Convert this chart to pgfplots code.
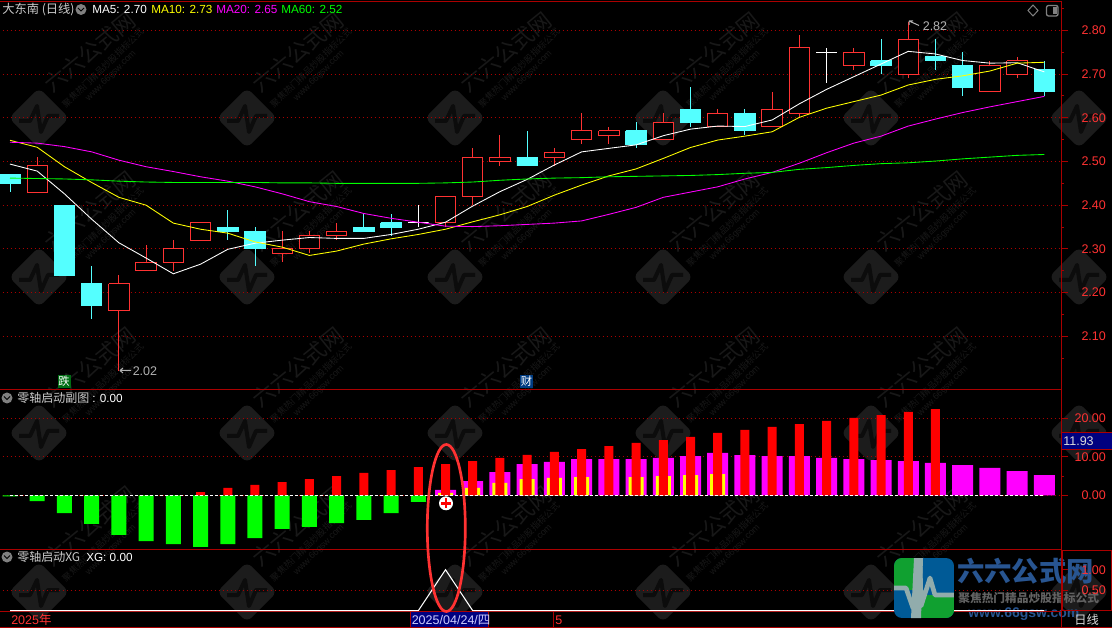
\documentclass[border=0pt]{standalone}
\usepackage{fontspec}
\usepackage{pgfplots}
\usepackage{pgfplotstable}
\pgfplotsset{compat=1.18}
\setmainfont{Liberation Sans}
\newfontfamily\cjk{Noto Sans CJK SC}
\definecolor{axred}{RGB}{170,0,0}
\definecolor{tickred}{RGB}{255,50,50}
\definecolor{cr}{RGB}{255,50,50}
\definecolor{cc}{RGB}{84,255,255}
\definecolor{wm}{RGB}{28,28,28}
\definecolor{wmt}{RGB}{24,24,24}
\definecolor{wmd}{RGB}{12,12,12}
\definecolor{navy}{RGB}{0,0,128}
\definecolor{logoblue}{RGB}{0,90,150}
\definecolor{logogreen}{RGB}{16,160,48}
\definecolor{logotxt}{RGB}{40,85,145}
\definecolor{logoband}{RGB}{145,172,172}
\definecolor{pMag}{RGB}{255,0,255}
\definecolor{pGreen}{RGB}{0,255,0}
\definecolor{pYel}{RGB}{255,255,0}
\definecolor{pRed}{RGB}{255,0,0}
\definecolor{flagG}{RGB}{0,110,20}
\definecolor{flagB}{RGB}{0,60,130}
\pgfplotstableread{
i ma5 ma10 ma20 ma60
0 2.494 2.5485 2.544 2.462
1 2.478 2.5325 2.542 2.461
2 2.426 2.488 2.534 2.460
3 2.368 2.452 2.522 2.458
4 2.314 2.418 2.503 2.455
5 2.279 2.400 2.488 2.453
6 2.243 2.359 2.477 2.452
7 2.265 2.345 2.465 2.452
8 2.299 2.336 2.455 2.452
9 2.313 2.316 2.442 2.452
10 2.320 2.304 2.426 2.451
11 2.326 2.285 2.408 2.451
12 2.324 2.295 2.397 2.450
13 2.324 2.311 2.381 2.450
14 2.333 2.323 2.370 2.450
15 2.345 2.333 2.361 2.450
16 2.361 2.345 2.352 2.451
17 2.398 2.362 2.351 2.453
18 2.431 2.378 2.353 2.457
19 2.459 2.397 2.356 2.460
20 2.492 2.423 2.359 2.462
21 2.522 2.446 2.364 2.463
22 2.530 2.467 2.379 2.465
23 2.538 2.483 2.395 2.466
24 2.559 2.507 2.418 2.467
25 2.574 2.532 2.430 2.468
26 2.581 2.549 2.442 2.470
27 2.580 2.558 2.460 2.473
28 2.595 2.568 2.475 2.475
29 2.632 2.601 2.496 2.482
30 2.665 2.622 2.520 2.486
31 2.694 2.637 2.542 2.491
32 2.723 2.652 2.558 2.495
33 2.752 2.675 2.581 2.497
34 2.746 2.688 2.597 2.501
35 2.731 2.696 2.612 2.506
36 2.725 2.707 2.625 2.510
37 2.726 2.725 2.637 2.514
38 2.705 2.727 2.649 2.516
}\matable
\pgfplotstableread{
i v
0 -0.3
1 -1.5
2 -4.6
3 -7.45
4 -10.3
5 -11.9
6 -12.65
7 -13.4
8 -12.65
9 -11.1
10 -8.75
11 -8.2
12 -7.2
13 -6.4
14 -4.6
15 -1.7
}\greentable
\pgfplotstableread{
i v
7 0.85
8 1.9
9 2.7
10 3.45
11 4.2
12 5.0
13 5.8
14 6.55
15 7.35
16 8.1
17 8.9
18 9.7
19 10.5
20 11.25
21 12.0
22 12.8
23 13.6
24 14.35
25 15.15
26 16.2
27 17.0
28 17.75
29 18.5
30 19.3
31 20.1
32 20.85
33 21.65
34 22.4
}\redtable
\pgfplotstableread{
i v
16 1.4
17 3.7
18 6.05
19 8.1
20 8.65
21 9.4
22 9.4
23 9.4
24 9.7
25 10.2
26 11.0
27 10.45
28 10.2
29 10.2
30 9.7
31 9.4
32 9.15
33 8.9
34 8.4
35 7.85
36 7.1
37 6.3
38 5.25
}\magtable
\pgfplotstableread{
i v
16 0.6
17 1.9
18 3.2
19 4.2
20 4.5
21 4.75
23 4.75
24 5.0
25 5.25
26 5.5
}\yeltable
\pgfplotstableread{
i v
0 0
15 0
16 1
17 0
38 0
}\xgtable
\pgfplotsset{
  panel/.style={
    scale only axis, width=797.25pt, xmin=-0.4225, xmax=38.63,
    xtick=\empty, ytick pos=right, tick align=outside,
    axis line style={draw=axred,line width=.75pt},
    every tick/.style={draw=axred,line width=.75pt},
    major tick length=5pt, minor tick length=2pt,
    ymajorgrids,
    major grid style={draw=axred,line width=.75pt,dash pattern=on .75pt off 2.25pt},
    yticklabel style={font=\fontsize{9.4}{10}\selectfont,text=tickred,anchor=east,xshift=28.5pt,inner sep=0pt,
      /pgf/number format/.cd,fixed,fixed zerofill,precision=2,assume math mode=true},
    scaled y ticks=false,
  },
  rc/.style={draw=cr,fill=black,line width=.7pt,mark=none,forget plot},
  rw/.style={draw=cr,line width=.7pt,mark=none,forget plot},
  cc/.style={draw=cc,fill=cc,line width=.7pt,mark=none,forget plot},
  cw/.style={draw=cc,line width=.7pt,mark=none,forget plot},
  dc/.style={draw=white,fill=white,line width=.7pt,mark=none,forget plot},
  dw/.style={draw=white,line width=.7pt,mark=none,forget plot},
  mabar/.style={ybar,bar shift=0pt,draw=none,mark=none,forget plot},
  maline/.style={line width=.65pt,mark=none},
}
% style pair, i, body top, body bottom, low, high
\newcommand{\candle}[6]{%
  \pgfmathsetmacro\xl{#2-0.375}\pgfmathsetmacro\xr{#2+0.375}%
  \addplot[#1w] coordinates {(#2,#3)(#2,#6)};%
  \addplot[#1w] coordinates {(#2,#4)(#2,#5)};%
  \addplot[#1c] coordinates {(\xl,#3)(\xr,#3)(\xr,#4)(\xl,#4)(\xl,#3)};%
}
\begin{document}
\begin{tikzpicture}
\useasboundingbox (0,0) rectangle (834pt,471pt);
\fill[black] (0,0) rectangle (834pt,471pt);
% watermarks
\begin{scope}[x=.75pt,y=-.75pt,yshift=471pt]
\foreach \wx in {39,247,455,663,871,1079}{
 \foreach \wy in {118,277,433,592}{
  \node[fill=wm,rotate=45,minimum size=32pt,inner sep=0pt,rounded corners=5pt] at (\wx,\wy) {};
  \draw[wmd,line width=3pt,line join=round] (\wx-20,\wy+3) -- (\wx-9,\wy+3) -- (\wx-2,\wy-12) -- (\wx+2,\wy+14) -- (\wx+9,\wy-2) -- (\wx+20,\wy-2);
 }
}
\foreach \wx in {39,247,455,663,871}{
 \foreach \wy in {118,277,433,592}{
  \node[text=wmt,rotate=39,font=\cjk\fontsize{16.5}{17}\selectfont,inner sep=0pt] at (\wx+51,\wy-66) {六六公式网};
  \node[text=wmt,rotate=44,font=\cjk\fontsize{6.8}{7}\selectfont,inner sep=0pt] at (\wx+64,\wy-50) {聚焦热门精品炒股指标公式};
  \node[text=wmt,rotate=45,font=\fontsize{6.8}{7}\selectfont,inner sep=0pt] at (\wx+72,\wy-42) {www.66gsw.com};
 }
}
 % logo texts lie under the XG panel's labels
 \node[anchor=west,inner sep=0pt,text=logotxt,font=\cjk\bfseries\fontsize{20.5}{22}\selectfont] at (957,571) {六六公式网};
 \node[anchor=west,inner sep=0pt,text=white!38!black,font=\cjk\bfseries\fontsize{8.8}{10}\selectfont] at (958,598) {聚焦热门精品炒股指标公式};
 \node[anchor=west,inner sep=0pt,text=logotxt,font=\bfseries\fontsize{10.5}{11}\selectfont] at (968,614.5) {www.66gsw.com};
\end{scope}
% main panel
\begin{axis}[panel,at={(-1.125pt,179.025pt)},anchor=south west,height=290.85pt,
  ymin=1.9787,ymax=2.8661,
  ytick={2.1,2.2,2.3,2.4,2.5,2.6,2.7,2.8},
  minor ytick={2.05,2.15,2.25,2.35,2.45,2.55,2.65,2.75,2.85}]
\candle{c}{0}{2.47}{2.45}{2.43}{2.47}
\candle{r}{1}{2.49}{2.43}{2.43}{2.51}
\candle{c}{2}{2.40}{2.24}{2.24}{2.40}
\candle{c}{3}{2.22}{2.17}{2.14}{2.26}
\candle{r}{4}{2.22}{2.16}{2.02}{2.24}
\candle{r}{5}{2.27}{2.25}{2.25}{2.31}
\candle{r}{6}{2.30}{2.27}{2.25}{2.32}
\candle{r}{7}{2.36}{2.32}{2.32}{2.36}
\candle{c}{8}{2.35}{2.34}{2.32}{2.39}
\candle{c}{9}{2.34}{2.30}{2.26}{2.35}
\candle{r}{10}{2.30}{2.29}{2.27}{2.34}
\candle{r}{11}{2.33}{2.30}{2.29}{2.34}
\candle{r}{12}{2.34}{2.33}{2.32}{2.36}
\candle{c}{13}{2.35}{2.34}{2.34}{2.38}
\candle{c}{14}{2.36}{2.35}{2.33}{2.38}
\candle{d}{15}{2.36}{2.36}{2.35}{2.40}
\candle{r}{16}{2.42}{2.36}{2.35}{2.42}
\candle{r}{17}{2.51}{2.42}{2.40}{2.53}
\candle{r}{18}{2.51}{2.50}{2.49}{2.56}
\candle{c}{19}{2.51}{2.49}{2.49}{2.57}
\candle{r}{20}{2.52}{2.51}{2.49}{2.53}
\candle{r}{21}{2.57}{2.55}{2.54}{2.61}
\candle{r}{22}{2.57}{2.56}{2.54}{2.58}
\candle{c}{23}{2.57}{2.54}{2.53}{2.59}
\candle{r}{24}{2.59}{2.55}{2.55}{2.61}
\candle{c}{25}{2.62}{2.59}{2.58}{2.67}
\candle{r}{26}{2.61}{2.58}{2.58}{2.62}
\candle{c}{27}{2.61}{2.57}{2.56}{2.62}
\candle{r}{28}{2.62}{2.58}{2.58}{2.66}
\candle{r}{29}{2.76}{2.61}{2.60}{2.79}
\candle{d}{30}{2.75}{2.75}{2.68}{2.76}
\candle{r}{31}{2.75}{2.72}{2.71}{2.76}
\candle{c}{32}{2.73}{2.72}{2.70}{2.78}
\candle{r}{33}{2.78}{2.70}{2.69}{2.82}
\candle{c}{34}{2.74}{2.73}{2.71}{2.78}
\candle{c}{35}{2.72}{2.67}{2.65}{2.75}
\candle{r}{36}{2.72}{2.66}{2.66}{2.73}
\candle{r}{37}{2.73}{2.70}{2.69}{2.74}
\candle{c}{38}{2.71}{2.66}{2.65}{2.73}
\addplot[draw=white,maline] table[x=i,y=ma5]{\matable};
\addplot[draw=pYel,maline] table[x=i,y=ma10]{\matable};
\addplot[draw=pMag,maline] table[x=i,y=ma20]{\matable};
\addplot[draw=pGreen,maline] table[x=i,y=ma60]{\matable};
\end{axis}
% indicator panel
\begin{axis}[panel,at={(-1.125pt,59.025pt)},anchor=south west,height=120pt,
  ymin=-14.026,ymax=27.532,
  ytick={0,10,20},minor ytick={5,15}]
\addplot[mabar,bar width=11.25pt,fill=pGreen] table[x=i,y=v]{\greentable};
\addplot[mabar,bar width=15.75pt,fill=pMag] table[x=i,y=v]{\magtable};
\addplot[mabar,bar width=11.25pt,fill=pYel] table[x=i,y=v]{\yeltable};
\addplot[mabar,bar width=6.75pt,fill=pRed] table[x=i,y=v]{\redtable};
\addplot[draw=white,line width=.75pt,dash pattern=on 2.25pt off 1.5pt,mark=none] coordinates {(0,0)(38,0)};
\end{axis}
% XG panel
\begin{axis}[panel,at={(-1.125pt,12.15pt)},anchor=south west,height=46.875pt,
  ymin=-0.0268,ymax=1.4976,
  ytick={0.5},extra y ticks={1},extra y tick style={grid=none}]
\addplot[draw=white,line width=.8pt,mark=none] table[x=i,y=v]{\xgtable};
\end{axis}
% overlays in pixel coordinates
\begin{scope}[x=.75pt,y=-.75pt,yshift=471pt]
 % bottom strip
 \draw[axred,line width=.75pt] (0,627.3) -- (1112,627.3);
 \draw[axred,line width=.75pt] (1061.5,612) -- (1061.5,628);
 \fill[navy] (410.3,612) rectangle (488.3,627);
 \draw[axred,line width=.75pt] (410.3,612) -- (410.3,627) (488.3,612) -- (488.3,627) (553.3,612) -- (553.3,627);
 \node[anchor=west,inner sep=0pt,text=tickred,font=\fontsize{9.4}{10}\selectfont] at (11,620) {2025{\cjk 年}};
 \node[anchor=west,inner sep=0pt,text=white!80!blue,font=\fontsize{9.4}{10}\selectfont] at (411.5,620) {2025/04/24/{\cjk 四}};
 \node[anchor=west,inner sep=0pt,text=tickred,font=\fontsize{9.4}{10}\selectfont] at (555,620) {5};
 \node[anchor=west,inner sep=0pt,text=white!85!black,font=\cjk\fontsize{9.2}{10}\selectfont] at (1074,619.5) {日线};
 % right-hand boxes
 \draw[axred,line width=.75pt] (1062,550) rectangle (1111,610.7);
 \fill[navy] (1062,433) rectangle (1112,449.5);
 \draw[axred,line width=.75pt] (1062,433) -- (1112,433) (1062,449.5) -- (1112,449.5);
 \node[anchor=west,inner sep=0pt,text=white!85!black,font=\fontsize{9.4}{10}\selectfont] at (1063,441) {11.93};
 % header
 \node[anchor=west,inner sep=0pt,text=white!80!black,font=\cjk\fontsize{9.2}{10}\selectfont] at (2,9.5) {大东南 (日线)};
 \fill[gray] (81,9.5) circle (5.5);
 \draw[black,line width=.75pt] (78,8) -- (81,11) -- (84,8);
 \node[anchor=west,inner sep=0pt,text=white,font=\fontsize{8.8}{10}\selectfont] at (92,9.5) {MA5: 2.70};
 \node[anchor=west,inner sep=0pt,text=pYel,font=\fontsize{8.8}{10}\selectfont] at (151,9.5) {MA10: 2.73};
 \node[anchor=west,inner sep=0pt,text=pMag,font=\fontsize{8.8}{10}\selectfont] at (216,9.5) {MA20: 2.65};
 \node[anchor=west,inner sep=0pt,text=pGreen,font=\fontsize{8.8}{10}\selectfont] at (281,9.5) {MA60: 2.52};
 % top right icons
 \draw[gray,line width=.75pt] (1033,5) -- (1038,10.5) -- (1033,16) -- (1028,10.5) -- cycle;
 \draw[gray,line width=1pt,rounded corners=1.5pt] (1046.5,5.5) rectangle (1058,16);
 \fill[gray] (1052.5,7) rectangle (1056.5,14.5);
 % sub-panel titles
 \fill[gray] (7,398) circle (5.5);
 \draw[black,line width=.75pt] (4,396.5) -- (7,399.5) -- (10,396.5);
 \node[anchor=west,inner sep=0pt,text=white!80!black,font=\cjk\fontsize{9}{10}\selectfont] at (17,398) {零轴启动副图};
 \node[anchor=west,inner sep=0pt,text=white,font=\fontsize{8.8}{10}\selectfont] at (92,398) {: 0.00};
 \fill[gray] (7,557) circle (5.5);
 \draw[black,line width=.75pt] (4,555.5) -- (7,558.5) -- (10,555.5);
 \node[anchor=west,inner sep=0pt,text=white!80!black,font=\cjk\fontsize{9}{10}\selectfont] at (17,557) {零轴启动XG};
 \node[anchor=west,inner sep=0pt,text=white,font=\fontsize{8.8}{10}\selectfont] at (86,557) {XG: 0.00};
 % price annotations
 \draw[white!70!black,line width=.75pt] (120,370.5) -- (131,370.5) (120,370.5) -- (123,368) (120,370.5) -- (123,373);
 \node[anchor=west,inner sep=0pt,text=white!70!black,font=\fontsize{9.4}{10}\selectfont] at (132.5,371) {2.02};
 \draw[white!70!black,line width=.75pt] (909,21) -- (919,25.5) (909,21) -- (913,21) (909,21) -- (909,25);
 \node[anchor=west,inner sep=0pt,text=white!70!black,font=\fontsize{9.4}{10}\selectfont] at (922.5,26.5) {2.82};
 % event flags
 \fill[flagG] (57.5,375) rectangle (70.5,388);
 \node[inner sep=0pt,text=white,font=\cjk\fontsize{8.5}{9}\selectfont] at (64,381.5) {跌};
 \fill[flagB] (520,375) rectangle (533,388);
 \node[inner sep=0pt,text=white,font=\cjk\fontsize{8.5}{9}\selectfont] at (526.5,381.5) {财};
 % ellipse and marker
 \draw[cr,line width=2pt] (446.3,528) ellipse (19 and 83.5);
 \fill[white] (446,503.3) circle (7);
 \draw[pRed,line width=1.8pt] (441,503.3) -- (451,503.3) (446,498.3) -- (446,508.3);
 % logo icon
 \begin{scope}
  \clip[rounded corners=6pt] (894,558) rectangle (954,618);
  \fill[logoblue] (894,558) rectangle (954,618);
  \fill[logogreen] (894,558) rectangle (918,590);
  \fill[logogreen] (921,595) rectangle (954,618);
  \draw[logoband,line width=3.5pt,line join=round] (894,588) -- (906,588) -- (913,608) -- (920,560) -- (921,606) -- (930,578) -- (935,595) -- (954,595);
  \fill[logoband] (914,558) -- (923,558) -- (921,618) -- (911,618) -- cycle;
 \end{scope}
\end{scope}
\end{tikzpicture}
\end{document}
